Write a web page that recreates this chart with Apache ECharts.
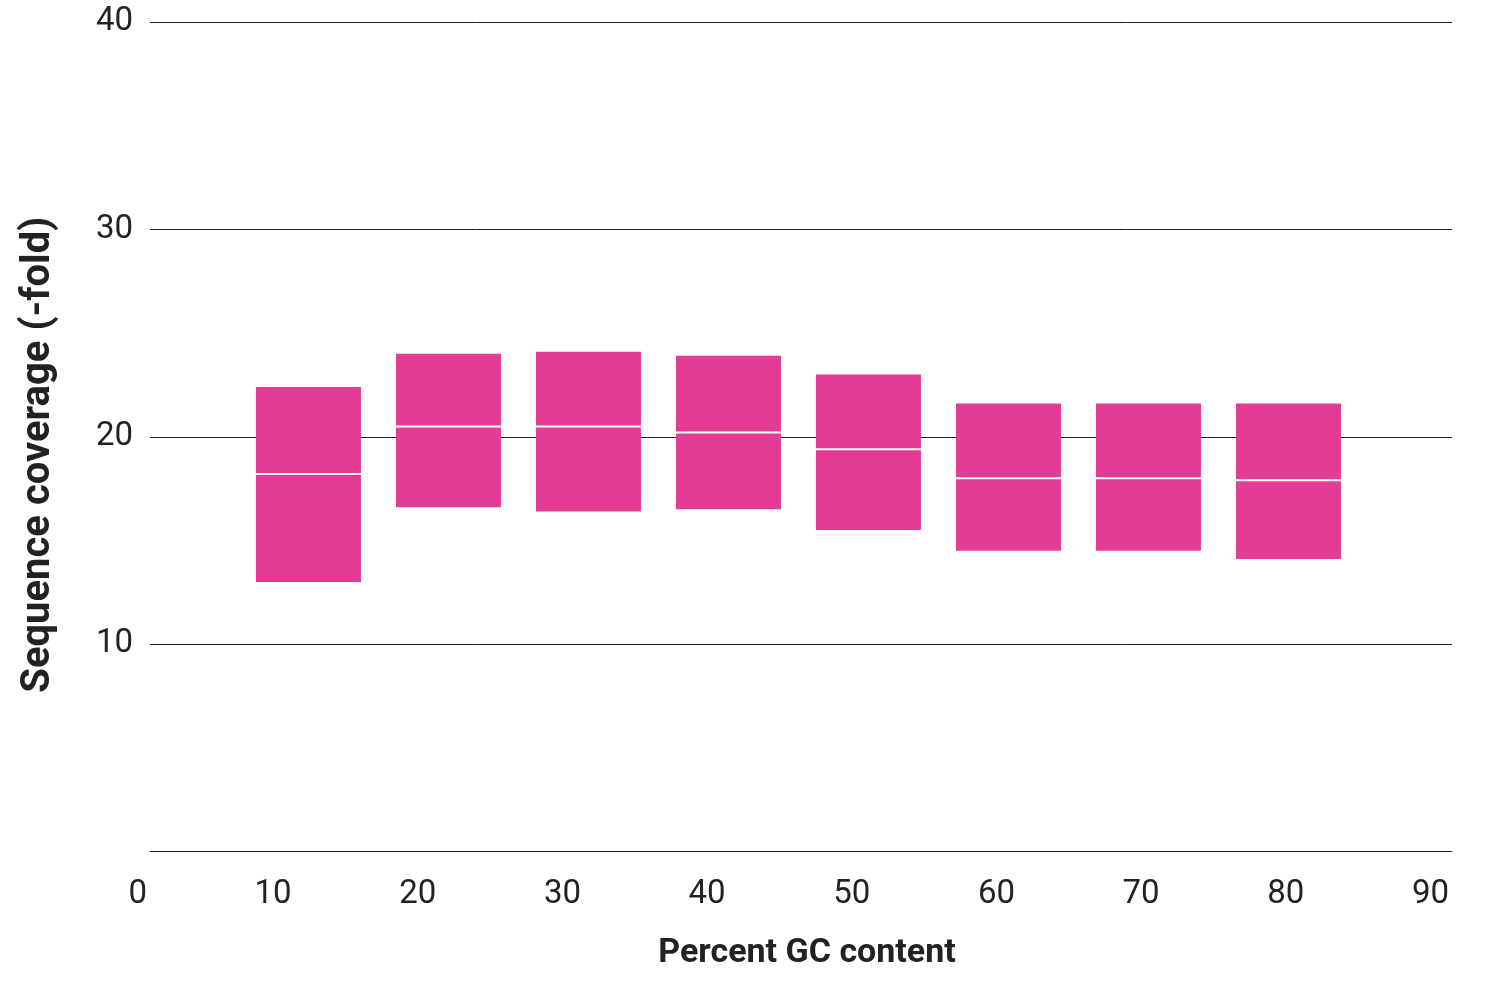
<!DOCTYPE html>
<html>
<head>
<meta charset="utf-8">
<title>Sequence coverage vs GC content</title>
<script src="https://cdn.jsdelivr.net/npm/echarts@6/dist/echarts.min.js"></script>
<style>
    html, body { margin: 0; padding: 0; background: #fff; }
    #chart { width: 1491px; height: 987px; }
</style>
</head>
<body>
<div id="chart"></div>
<script>
// data
var gcContent = [10, 20, 30, 40, 50, 60, 70, 80];
var coverageLow = [13.0, 16.6, 16.4, 16.5, 15.5, 14.5, 14.5, 14.1];
var coverageMedian = [18.2, 20.5, 20.5, 20.2, 19.4, 18.0, 18.0, 17.9];
var coverageHigh = [22.4, 24.0, 24.1, 23.9, 23.0, 21.6, 21.6, 21.6];

(function (win) {
    var chart = echarts.init(document.getElementById('chart')),
        pink = '#e23c95',
        ink = '#222222',
        boxWidth = 105,
        font = 'Roboto, "Noto Sans", sans-serif';

    var boxes = [];
    for (var i = 0; i < gcContent.length; i++) {
        boxes.push([gcContent[i], coverageLow[i], coverageMedian[i], coverageHigh[i]]);
    }

    //box + median line
    function renderBox(params, api) {
        var x = api.value(0),
            pLow = api.coord([x, api.value(1)]),
            pMed = api.coord([x, api.value(2)]),
            pHigh = api.coord([x, api.value(3)]);
        return {
            type: 'group',
            children: [
                {
                    type: 'rect',
                    shape: { x: pLow[0] - boxWidth / 2, y: pHigh[1], width: boxWidth, height: pLow[1] - pHigh[1] },
                    style: { fill: pink }
                },
                {
                    type: 'line',
                    shape: { x1: pMed[0] - boxWidth / 2, y1: pMed[1], x2: pMed[0] + boxWidth / 2, y2: pMed[1] },
                    style: { stroke: '#ffffff', lineWidth: 2 }
                }
            ]
        };
    }

    chart.setOption({
        backgroundColor: '#ffffff',
        animation: false,
        grid: { left: 150, right: 39, top: 22, bottom: 135.5 },
        xAxis: [
            {
                type: 'value',
                min: 0,
                max: 90,
                interval: 10,
                name: 'Percent GC content',
                nameLocation: 'middle',
                nameGap: 85,
                nameTextStyle: { fontFamily: font, fontSize: 34, fontWeight: 'bold', color: ink, padding: [0, 0, 0, 12] },
                axisLine: { show: true, lineStyle: { color: ink, width: 1 } },
                axisTick: { show: false },
                splitLine: { show: false },
                axisLabel: {
                    margin: 27,
                    align: 'right',
                    padding: [0, 3, 0, 0],
                    fontFamily: font,
                    fontSize: 33,
                    fontWeight: 'normal',
                    color: ink
                }
            },
            {
                //hidden axis that places the boxes
                type: 'value',
                min: -1.317,
                max: 91.683,
                show: false
            }
        ],
        yAxis: {
            type: 'value',
            min: 0,
            max: 40,
            interval: 10,
            name: 'Sequence coverage (-fold)',
            nameLocation: 'middle',
            nameGap: 91,
            nameTextStyle: { fontFamily: font, fontSize: 40, fontWeight: 'bold', color: ink, padding: [0, 36, 0, 0] },
            axisLine: { show: false },
            axisTick: { show: false },
            splitLine: { show: true, lineStyle: { color: ink, width: 1 } },
            axisLabel: {
                showMinLabel: false,
                margin: 17,
                fontFamily: font,
                fontSize: 33,
                fontWeight: 'normal',
                color: ink
            }
        },
        series: [
            {
                type: 'custom',
                xAxisIndex: 1,
                yAxisIndex: 0,
                renderItem: renderBox,
                encode: { x: 0, y: [1, 2, 3] },
                data: boxes
            }
        ]
    });
})(this);
</script>
</body>
</html>
